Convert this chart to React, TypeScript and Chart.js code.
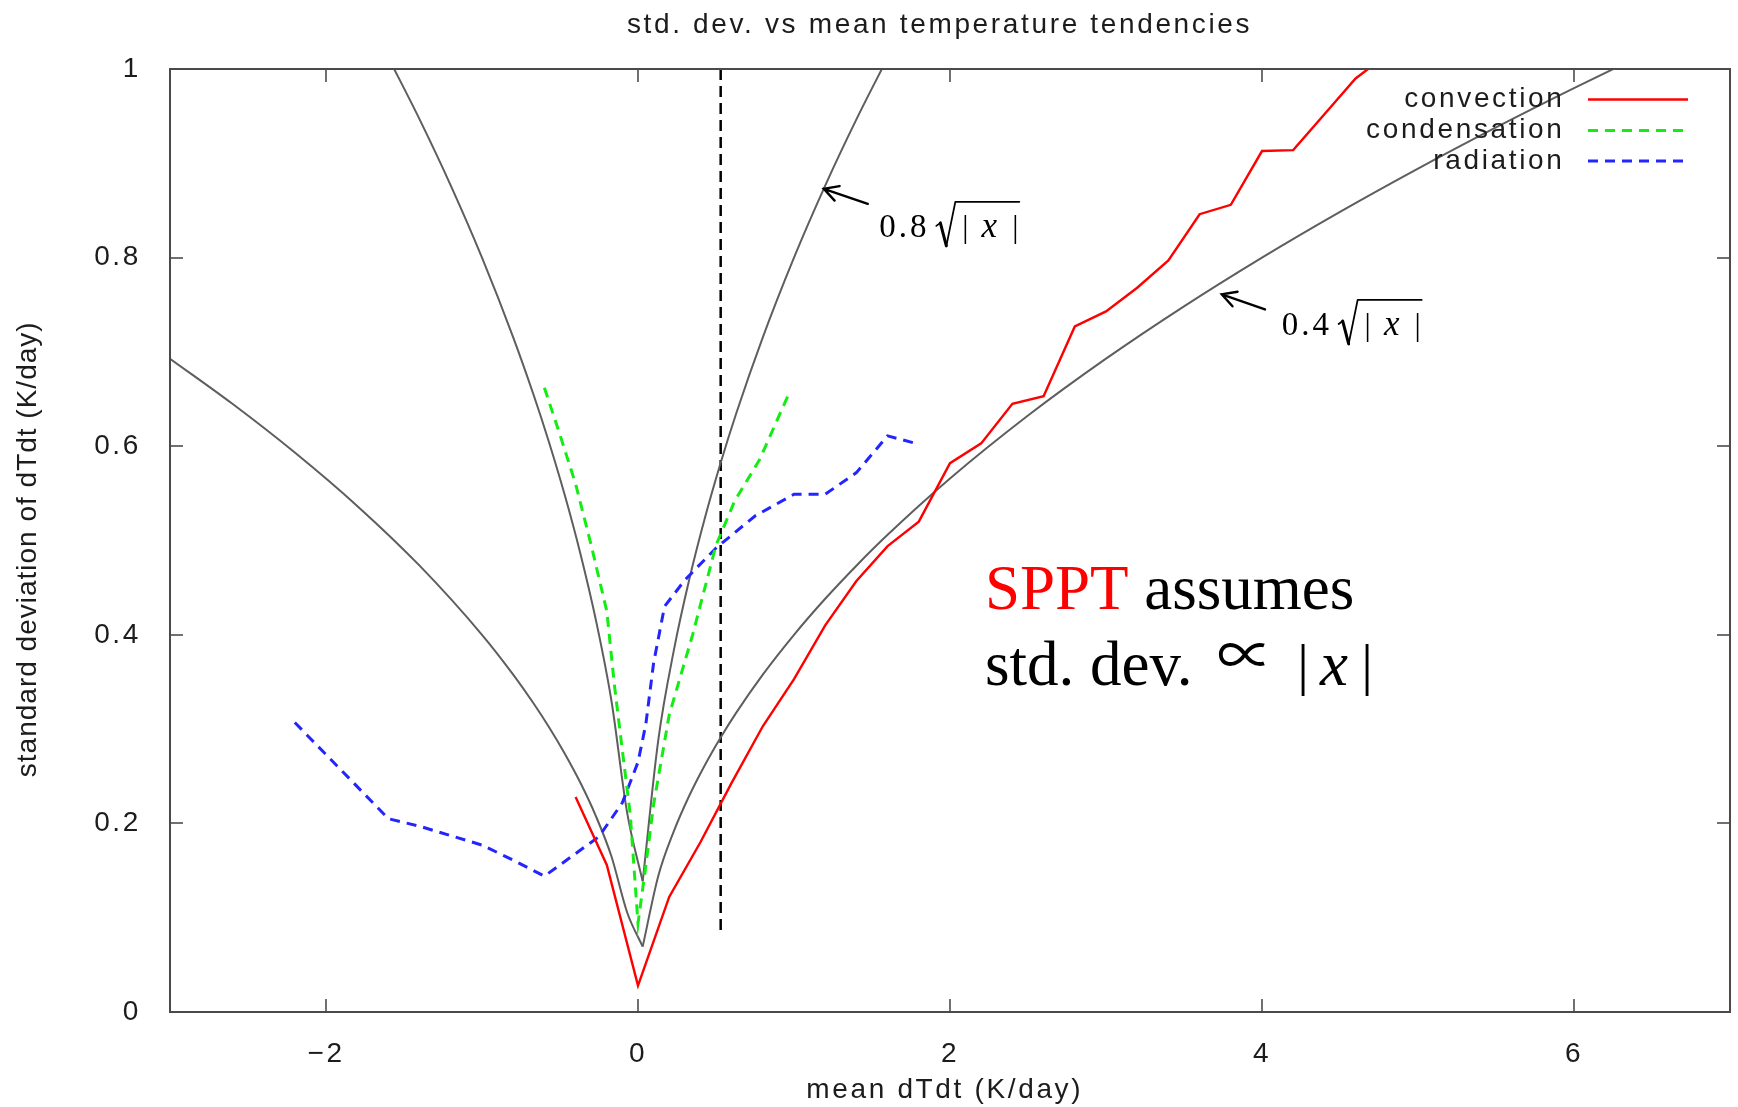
import React, { useEffect, useRef } from 'react';
import { Chart, registerables } from 'chart.js';

Chart.register(...registerables);

const SANS = '"Liberation Sans", Arial, Helvetica, sans-serif';
const SERIF = '"Liberation Serif", "Times New Roman", "DejaVu Serif", serif';
const LS = '2.65px';
const TEXT = '#1c1c1c';
const FONT_SIZE = 28;

// ---- texts ----
const chartTitle = 'std. dev. vs mean temperature tendencies  ';
const xAxisTitle = 'mean dTdt (K/day) ';
const yAxisTitle = 'standard deviation of dTdt (K/day)  ';

// ---- ticks ----
const xTickValues = [-2, 0, 2, 4, 6];
const yTickValues = [0, 0.2, 0.4, 0.6, 0.8, 1];

// ---- series ----
const convectionX = [-0.4, -0.2, 0, 0.2, 0.4, 0.6, 0.8, 1.0, 1.2, 1.4, 1.6, 1.8, 2.0, 2.2, 2.4, 2.6, 2.8, 3.0, 3.2, 3.4, 3.6, 3.8, 4.0, 4.2, 4.4, 4.6, 4.8];
const convectionY = [0.228, 0.156, 0.028, 0.122, 0.18, 0.243, 0.303, 0.353, 0.41, 0.457, 0.494, 0.52, 0.582, 0.603, 0.645, 0.653, 0.727, 0.743, 0.768, 0.797, 0.846, 0.856, 0.913, 0.914, 0.952, 0.99, 1.015];

const condensationX = [-0.6, -0.5, -0.4, -0.3, -0.2, -0.15, -0.1, -0.05, 0, 0.05, 0.1, 0.2, 0.35, 0.5, 0.62, 0.78, 0.96];
const condensationY = [0.662, 0.612, 0.56, 0.495, 0.425, 0.345, 0.277, 0.21, 0.094, 0.155, 0.22, 0.315, 0.4, 0.495, 0.542, 0.586, 0.653];

const radiationX = [-2.2, -2.0, -1.8, -1.6, -1.4, -1.2, -1.0, -0.8, -0.6, -0.4, -0.25, -0.1, 0, 0.05, 0.1, 0.17, 0.3, 0.5, 0.75, 1.0, 1.2, 1.4, 1.6, 1.78];
const radiationY = [0.307, 0.273, 0.239, 0.205, 0.197, 0.187, 0.177, 0.161, 0.144, 0.168, 0.186, 0.222, 0.265, 0.305, 0.37, 0.43, 0.458, 0.492, 0.526, 0.549, 0.549, 0.572, 0.611, 0.603];

// grey reference curve 0.8*sqrt|x|, left and right arms
const innerLeftX = [-1.6, -1.4, -1.2, -1.0, -0.8, -0.67, -0.57, -0.47, -0.37, -0.27, -0.17, -0.07, 0.03];
const innerLeftY = [1.0119, 0.9466, 0.8764, 0.8, 0.7155, 0.6548, 0.604, 0.5485, 0.4866, 0.4157, 0.3298, 0.2117, 0.1386];
const innerRightX = [0.03, 0.13, 0.23, 0.33, 0.43, 0.53, 0.63, 0.8, 1.0, 1.2, 1.4, 1.6];
const innerRightY = [0.1386, 0.2884, 0.3837, 0.4596, 0.5246, 0.5824, 0.635, 0.7155, 0.8, 0.8764, 0.9466, 1.0119];

// grey reference curve 0.4*sqrt|x|, left and right arms
const outerLeftX = [-3.0, -2.6, -2.2, -1.8, -1.4, -1.0, -0.8, -0.67, -0.57, -0.47, -0.37, -0.27, -0.17, -0.07, 0.03];
const outerLeftY = [0.6928, 0.645, 0.5933, 0.5367, 0.4733, 0.4, 0.3578, 0.3274, 0.302, 0.2742, 0.2433, 0.2078, 0.1649, 0.1058, 0.0693];
const outerRightX = [0.03, 0.13, 0.23, 0.33, 0.43, 0.53, 0.63, 0.8, 1.0, 1.2, 1.4, 1.6, 2.0, 2.5, 3.0, 3.5, 4.0, 4.5, 5.0, 5.5, 6.0, 6.5];
const outerRightY = [0.0693, 0.1442, 0.1918, 0.2298, 0.2623, 0.2912, 0.3175, 0.3578, 0.4, 0.4382, 0.4733, 0.506, 0.5657, 0.6325, 0.6928, 0.7483, 0.8, 0.8485, 0.8944, 0.9381, 0.9798, 1.0198];

// vertical dashed marker
const markerX = [0.53, 0.53];
const markerY = [1.0, 0.087];

const legendLabels = ['convection', 'condensation', 'radiation'];

// ---- annotation anchors (data coordinates) ----
const innerArrow = { tailX: 1.473, tailY: 0.857, headX: 1.191, headY: 0.873 };
const outerArrow = { tailX: 4.019, tailY: 0.745, headX: 3.742, headY: 0.761 };
const innerLabel = { x: 1.547, y: 0.822, coef: '0.8' };
const outerLabel = { x: 4.126, y: 0.718, coef: '0.4' };
const spptNote = { x: 2.224, y1: 0.427, y2: 0.347 };

const RED = '#ff0000';
const GREEN = '#14ec14';
const BLUE = '#2424ff';
const GRAY = '#5e5e5e';

const toPoints = (xs: number[], ys: number[]) => xs.map((x, i) => ({ x, y: ys[i] }));

function drawArrow(ctx: CanvasRenderingContext2D, x1: number, y1: number, x2: number, y2: number) {
  const ang = Math.atan2(y2 - y1, x2 - x1);
  const L = 16;
  const sp = 0.5;
  ctx.beginPath();
  ctx.moveTo(x1, y1);
  ctx.lineTo(x2, y2);
  ctx.moveTo(x2 - L * Math.cos(ang - sp), y2 - L * Math.sin(ang - sp));
  ctx.lineTo(x2, y2);
  ctx.lineTo(x2 - L * Math.cos(ang + sp), y2 - L * Math.sin(ang + sp));
  ctx.stroke();
}

function drawSqrtLabel(ctx: CanvasRenderingContext2D, x0: number, B: number, coef: string) {
  ctx.fillStyle = '#000';
  ctx.strokeStyle = '#000';
  ctx.textBaseline = 'alphabetic';
  ctx.textAlign = 'left';
  (ctx as any).letterSpacing = '3px';
  ctx.font = `33px ${SERIF}`;
  ctx.fillText(coef, x0, B);
  (ctx as any).letterSpacing = '0px';
  ctx.lineCap = 'round';
  ctx.lineJoin = 'round';
  ctx.lineWidth = 1.8;
  ctx.beginPath();
  ctx.moveTo(x0 + 57, B - 11);
  ctx.lineTo(x0 + 61, B - 14);
  ctx.stroke();
  ctx.lineWidth = 3;
  ctx.beginPath();
  ctx.moveTo(x0 + 61, B - 14);
  ctx.lineTo(x0 + 67, B + 9);
  ctx.stroke();
  ctx.lineWidth = 1.8;
  ctx.beginPath();
  ctx.moveTo(x0 + 67, B + 9);
  ctx.lineTo(x0 + 76, B - 35);
  ctx.lineTo(x0 + 140, B - 35);
  ctx.stroke();
  ctx.textAlign = 'center';
  ctx.font = `31px ${SERIF}`;
  ctx.fillText('|', x0 + 86, B);
  ctx.fillText('|', x0 + 136, B);
  ctx.font = `italic 35px ${SERIF}`;
  ctx.fillText('x', x0 + 110, B);
}

const decorPlugin = {
  id: 'decor',
  beforeUpdate(chart: any) {
    chart.ctx.letterSpacing = LS;
  },
  beforeDraw(chart: any) {
    chart.ctx.letterSpacing = LS;
  },
  afterLayout(chart: any) {
    const s: any = chart.scales.y;
    if (s && !s.__wrapped) {
      const orig = s.drawTitle;
      s.drawTitle = function (...args: any[]) {
        const c = this.ctx;
        c.save();
        c.letterSpacing = '1px';
        orig.apply(this, args);
        c.restore();
      };
      s.__wrapped = true;
    }
  },
  afterDraw(chart: any) {
    const { ctx, chartArea: a, scales } = chart;
    const xs = scales.x;
    const ys = scales.y;
    ctx.save();
    ctx.letterSpacing = '0px';

    // inward tick marks on all four sides
    ctx.strokeStyle = '#707070';
    ctx.lineWidth = 2;
    ctx.setLineDash([]);
    ctx.beginPath();
    xs.ticks.forEach((t: any) => {
      const px = Math.round(xs.getPixelForValue(t.value));
      ctx.moveTo(px, a.bottom);
      ctx.lineTo(px, a.bottom - 13);
      ctx.moveTo(px, a.top);
      ctx.lineTo(px, a.top + 13);
    });
    ys.ticks.forEach((t: any) => {
      const py = Math.round(ys.getPixelForValue(t.value));
      ctx.moveTo(a.left, py);
      ctx.lineTo(a.left + 13, py);
      ctx.moveTo(a.right, py);
      ctx.lineTo(a.right - 13, py);
    });
    ctx.stroke();

    // frame
    ctx.strokeStyle = '#4a4a4a';
    ctx.lineWidth = 2;
    ctx.strokeRect(a.left, a.top, a.right - a.left, a.bottom - a.top);

    // legend (text right-aligned, sample line to the right)
    const rows = [a.top + 30.5, a.top + 61.5, a.top + 92];
    legendLabels.forEach((lab, i) => {
      const ds = chart.data.datasets[i];
      const yRow = rows[i];
      ctx.letterSpacing = LS;
      ctx.font = `${FONT_SIZE}px ${SANS}`;
      ctx.fillStyle = TEXT;
      ctx.textAlign = 'right';
      ctx.textBaseline = 'middle';
      ctx.fillText(lab, a.right - 165.5, yRow);
      ctx.letterSpacing = '0px';
      ctx.strokeStyle = ds.borderColor;
      ctx.lineWidth = ds.borderWidth;
      ctx.setLineDash(ds.borderDash || []);
      ctx.beginPath();
      ctx.moveTo(a.right - 142, yRow);
      ctx.lineTo(a.right - 42, yRow);
      ctx.stroke();
    });
    ctx.setLineDash([]);

    // arrows
    ctx.strokeStyle = '#000';
    ctx.lineWidth = 2.4;
    ctx.lineCap = 'round';
    [innerArrow, outerArrow].forEach((ar) => {
      drawArrow(
        ctx,
        xs.getPixelForValue(ar.tailX),
        ys.getPixelForValue(ar.tailY),
        xs.getPixelForValue(ar.headX),
        ys.getPixelForValue(ar.headY)
      );
    });

    // sqrt labels
    [innerLabel, outerLabel].forEach((lb) => {
      drawSqrtLabel(ctx, xs.getPixelForValue(lb.x), ys.getPixelForValue(lb.y), lb.coef);
    });

    // SPPT note
    const sx = xs.getPixelForValue(spptNote.x);
    const b1 = ys.getPixelForValue(spptNote.y1);
    const b2 = ys.getPixelForValue(spptNote.y2);
    ctx.letterSpacing = '0px';
    ctx.textBaseline = 'alphabetic';
    ctx.textAlign = 'left';
    ctx.font = `63px ${SERIF}`;
    ctx.fillStyle = '#ff0000';
    ctx.fillText('SPPT', sx, b1);
    const w = ctx.measureText('SPPT').width;
    ctx.fillStyle = '#000';
    ctx.fillText(' assumes', sx + w, b1);
    ctx.fillText('std. dev.', sx, b2);
    ctx.textAlign = 'center';
    ctx.font = `56px "Noto Sans CJK JP", "Noto Sans CJK SC", ${SERIF}`;
    ctx.fillText('\u221D', sx + 260, b2 - 10);
    ctx.font = `58px ${SERIF}`;
    ctx.fillText('|', sx + 318, b2 - 1);
    ctx.fillText('|', sx + 382, b2 - 1);
    ctx.font = `italic 63px ${SERIF}`;
    ctx.fillText('x', sx + 349, b2);

    ctx.restore();
  },
};

export default function App() {
  const ref = useRef<HTMLCanvasElement>(null);

  useEffect(() => {
    if (!ref.current) return;
    const common = { showLine: true, pointRadius: 0, pointHoverRadius: 0, fill: false, tension: 0 };
    const smooth = { ...common, cubicInterpolationMode: 'monotone' };
    const chart = new Chart(ref.current, {
      type: 'scatter',
      data: {
        datasets: [
          { label: 'convection', data: toPoints(convectionX, convectionY), borderColor: RED, backgroundColor: RED, borderWidth: 2.4, ...common },
          { label: 'condensation', data: toPoints(condensationX, condensationY), borderColor: GREEN, backgroundColor: GREEN, borderWidth: 3, borderDash: [10, 7], ...common },
          { label: 'radiation', data: toPoints(radiationX, radiationY), borderColor: BLUE, backgroundColor: BLUE, borderWidth: 3, borderDash: [10, 7], ...common },
          { label: '0.8 sqrt|x| left', data: toPoints(innerLeftX, innerLeftY), borderColor: GRAY, backgroundColor: GRAY, borderWidth: 2, ...smooth },
          { label: '0.8 sqrt|x| right', data: toPoints(innerRightX, innerRightY), borderColor: GRAY, backgroundColor: GRAY, borderWidth: 2, ...smooth },
          { label: '0.4 sqrt|x| left', data: toPoints(outerLeftX, outerLeftY), borderColor: GRAY, backgroundColor: GRAY, borderWidth: 2, ...smooth },
          { label: '0.4 sqrt|x| right', data: toPoints(outerRightX, outerRightY), borderColor: GRAY, backgroundColor: GRAY, borderWidth: 2, ...smooth },
          { label: 'marker', data: toPoints(markerX, markerY), borderColor: '#000', backgroundColor: '#000', borderWidth: 2.5, borderDash: [11, 6], ...common },
        ],
      } as any,
      options: {
        animation: false,
        responsive: false,
        devicePixelRatio: 1,
        events: [],
        color: TEXT,
        layout: { padding: { left: 0, right: 8, top: 0, bottom: 0 } },
        plugins: {
          legend: { display: false },
          tooltip: { enabled: false },
          title: {
            display: true,
            text: chartTitle,
            fullSize: false,
            color: TEXT,
            font: { family: SANS, size: FONT_SIZE, weight: 'normal' },
            padding: { top: 8.2, bottom: 27.2 },
          },
        },
        scales: {
          x: {
            type: 'linear',
            min: -3,
            max: 7,
            grid: { display: false },
            border: { display: false },
            afterBuildTicks: (scale: any) => {
              scale.ticks = xTickValues.map((value) => ({ value }));
            },
            afterFit: (scale: any) => {
              scale.height = 95;
            },
            ticks: {
              color: TEXT,
              padding: 17.7,
              maxRotation: 0,
              font: { family: SANS, size: FONT_SIZE },
              callback: (v: any) => (v < 0 ? '\u2212' + Math.abs(v) : String(v)),
            },
            title: {
              display: true,
              text: xAxisTitle,
              color: TEXT,
              font: { family: SANS, size: FONT_SIZE },
              padding: { top: 0, bottom: 0.2 },
            },
          },
          y: {
            type: 'linear',
            min: 0,
            max: 1,
            grid: { display: false },
            border: { display: false },
            afterBuildTicks: (scale: any) => {
              scale.ticks = yTickValues.map((value) => ({ value }));
            },
            afterFit: (scale: any) => {
              scale.width = 170;
            },
            ticks: {
              color: TEXT,
              padding: 21,
              font: { family: SANS, size: FONT_SIZE },
              callback: (v: any) => (v === 0 ? '0' : v === 1 ? '1' : Number(v).toFixed(1)),
            },
            title: {
              display: true,
              text: yAxisTitle,
              color: TEXT,
              font: { family: SANS, size: FONT_SIZE },
              padding: { top: 11.2, bottom: 0 },
            },
          },
        },
      } as any,
      plugins: [decorPlugin as any],
    });
    return () => chart.destroy();
  }, []);

  return (
    <div style={{ position: 'absolute', left: 0, top: 0, width: 1738, height: 1107, background: '#ffffff' }}>
      <canvas ref={ref} width={1738} height={1107} style={{ display: 'block', width: 1738, height: 1107 }} />
    </div>
  );
}
